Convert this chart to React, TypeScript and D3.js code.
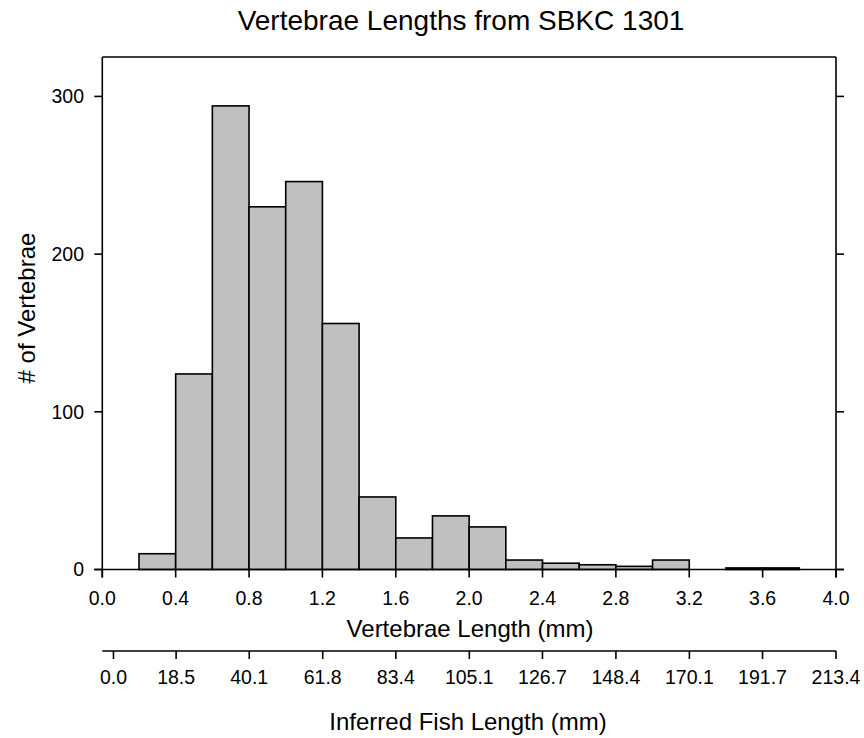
import React from "react";
import * as d3 from "d3";

const binStarts = [0.2, 0.4, 0.6, 0.8, 1.0, 1.2, 1.4, 1.6, 1.8, 2.0, 2.2, 2.4, 2.6, 2.8, 3.0, 3.2, 3.4, 3.6];
const binWidth = 0.2;
const counts = [10, 124, 294, 230, 246, 156, 46, 20, 34, 27, 6, 4, 3, 2, 6, 0, 1, 1];
const xTicks = [0, 0.4, 0.8, 1.2, 1.6, 2.0, 2.4, 2.8, 3.2, 3.6, 4.0];
const yTicks = [0, 100, 200, 300];
const fishTicks = [0, 18.5, 40.1, 61.8, 83.4, 105.1, 126.7, 148.4, 170.1, 191.7, 213.4];

const W = 864;
const H = 738;
const left = 102.3;
const right = 836;
const top = 57;
const bottom = 569.5;
const fishAxisY = 651;
const FONT = "'Liberation Sans', Arial, sans-serif";

export default function App() {
  const x = d3.scaleLinear().domain([0, 4]).range([left, right]);
  const y = d3.scaleLinear().domain([0, 325]).range([bottom, top]);
  const xf = d3.scaleLinear().domain([-3.3, 213.4]).range([left, right]);
  const sw = 1.6;

  return (
    <svg
      width={W}
      height={H}
      style={{ position: "absolute", left: 0, top: 0, background: "#fff" }}
      fontFamily={FONT}
    >
      <rect x={0} y={0} width={W} height={H} fill="#fff" />
      <text x={461} y={30} fontSize={28} textAnchor="middle" fill="#000">
        Vertebrae Lengths from SBKC 1301
      </text>

      {/* bars */}
      {binStarts.map((b, i) =>
        counts[i] > 0 ? (
          <rect
            key={i}
            x={x(b)}
            y={y(counts[i])}
            width={x(b + binWidth) - x(b)}
            height={y(0) - y(counts[i])}
            fill="#c0c0c0"
            stroke="#000"
            strokeWidth={sw}
          />
        ) : null
      )}

      {/* frame */}
      <line x1={left} x2={right} y1={top} y2={top} stroke="#000" strokeWidth={sw} />
      <line x1={left} x2={left} y1={top} y2={bottom + 8} stroke="#000" strokeWidth={sw} />
      <line x1={right} x2={right} y1={top} y2={bottom + 8} stroke="#000" strokeWidth={sw} />
      <line x1={left - 8} x2={right + 8} y1={bottom} y2={bottom} stroke="#000" strokeWidth={sw} />

      {/* y ticks */}
      {yTicks.map((t) => (
        <g key={t}>
          <line x1={left - 8} x2={left} y1={y(t)} y2={y(t)} stroke="#000" strokeWidth={sw} />
          <line x1={right} x2={right + 8} y1={y(t)} y2={y(t)} stroke="#000" strokeWidth={sw} />
          <text x={84} y={y(t)} dy="0.35em" fontSize={19.5} textAnchor="end" fill="#000">
            {t}
          </text>
        </g>
      ))}

      {/* x ticks */}
      {xTicks.map((t) => (
        <g key={t}>
          <line x1={x(t)} x2={x(t)} y1={bottom} y2={bottom + 8} stroke="#000" strokeWidth={sw} />
          <text x={x(t)} y={605} fontSize={19.5} textAnchor="middle" fill="#000">
            {t.toFixed(1)}
          </text>
        </g>
      ))}
      <text x={470} y={637} fontSize={24} textAnchor="middle" fill="#000">
        Vertebrae Length (mm)
      </text>

      {/* fish length axis */}
      <line x1={left} x2={right} y1={fishAxisY} y2={fishAxisY} stroke="#000" strokeWidth={sw} />
      {fishTicks.map((t) => (
        <g key={t}>
          <line x1={xf(t)} x2={xf(t)} y1={fishAxisY} y2={fishAxisY + 8} stroke="#000" strokeWidth={sw} />
          <text x={xf(t)} y={684} fontSize={19.5} textAnchor="middle" fill="#000">
            {t.toFixed(1)}
          </text>
        </g>
      ))}
      <text x={468} y={730} fontSize={24} textAnchor="middle" fill="#000">
        Inferred Fish Length (mm)
      </text>

      <text
        transform={`translate(35, ${308}) rotate(-90)`}
        fontSize={24}
        textAnchor="middle"
        fill="#000"
      >
        # of Vertebrae
      </text>
    </svg>
  );
}
